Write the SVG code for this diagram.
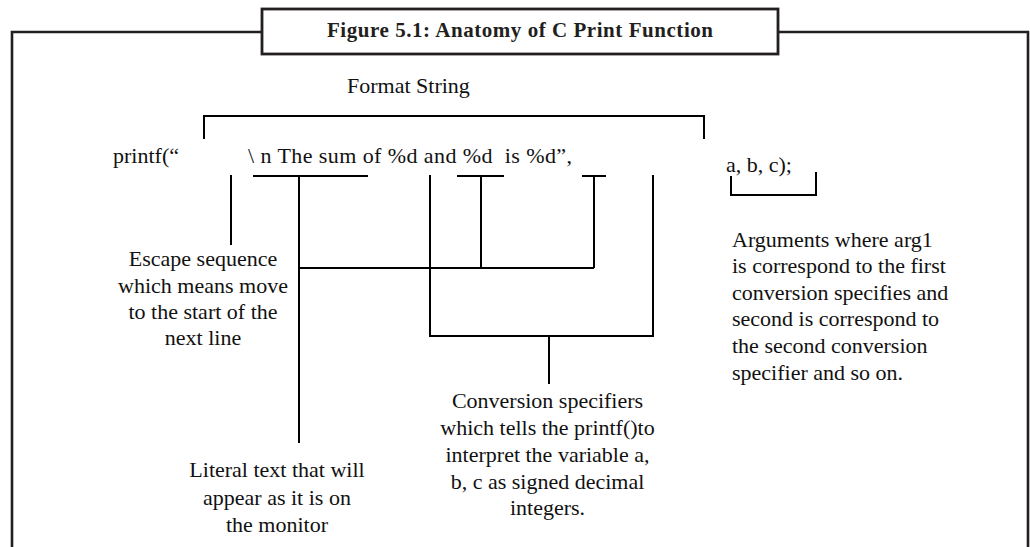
<svg xmlns="http://www.w3.org/2000/svg" width="1030" height="547" viewBox="0 0 1030 547">
<style>
.t{font-family:"Liberation Serif","Times New Roman",serif;font-size:22px;fill:#111}
.c{text-anchor:middle}
.frame{fill:none;stroke:#231f20;stroke-width:2.6}
.ln{fill:none;stroke:#000;stroke-width:2}
.title{font-family:"Liberation Serif","Times New Roman",serif;font-size:21px;font-weight:bold;fill:#231f20;text-anchor:middle}
</style>
<rect width="1030" height="547" fill="#fff"/>
<g id="frame">
<path class="frame" d="M12,547 V32 H262 M778,32 H1028 V547"/>
</g>
<g id="title">
<rect x="262" y="9" width="516" height="45" fill="#fff" stroke="#231f20" stroke-width="2.8"/>
<text class="title" x="520" y="37" textLength="386">Figure 5.1: Anatomy of C Print Function</text>
</g>
<g id="format-string">
<text class="t" x="347" y="93">Format String</text>
</g>
<g id="printf-line">
<text class="t" x="113" y="163">printf(“</text>
<text class="t" x="248" y="163" style="white-space:pre" textLength="324">\ n The sum of %d and %d  is %d”,</text>
</g>
<g id="args">
<text class="t" x="726" y="172">a, b, c);</text>
</g>
<g id="connectors">
<path class="ln" d="M204,139 V116 H704 V139"/>
<path class="ln" d="M231,175 V245"/>
<path class="ln" d="M253,176 H368 M299,176 V443"/>
<path class="ln" d="M299,268 H594"/>
<path class="ln" d="M457,176 H504 M481,176 V268"/>
<path class="ln" d="M582,176 H606 M594,176 V268"/>
<path class="ln" d="M430,175 V336 H653 V175"/>
<path class="ln" d="M549,336 V384"/>
<path class="ln" d="M731,176 V195 M816,172 V195 M730,195 H817"/>
</g>
<g id="escape-note">
<text class="t c" x="203" y="266">Escape sequence</text>
<text class="t c" x="203" y="292.5">which means move</text>
<text class="t c" x="203" y="319">to the start of the</text>
<text class="t c" x="203" y="345">next line</text>
</g>
<g id="literal-note">
<text class="t c" x="277" y="477">Literal text that will</text>
<text class="t c" x="277" y="504.5">appear as it is on</text>
<text class="t c" x="277" y="531.5">the monitor</text>
</g>
<g id="conversion-note">
<text class="t c" x="547.5" y="408">Conversion specifiers</text>
<text class="t c" x="547.5" y="435">which tells the printf()to</text>
<text class="t c" x="547.5" y="462">interpret the variable a,</text>
<text class="t c" x="547.5" y="489">b, c as signed decimal</text>
<text class="t c" x="547.5" y="515">integers.</text>
</g>
<g id="arguments-note">
<text class="t" x="732" y="246.5">Arguments where arg1</text>
<text class="t" x="732" y="273">is correspond to the first</text>
<text class="t" x="732" y="299.7">conversion specifies and</text>
<text class="t" x="732" y="326.3">second is correspond to</text>
<text class="t" x="732" y="353">the second conversion</text>
<text class="t" x="732" y="379.7">specifier and so on.</text>
</g>
</svg>
